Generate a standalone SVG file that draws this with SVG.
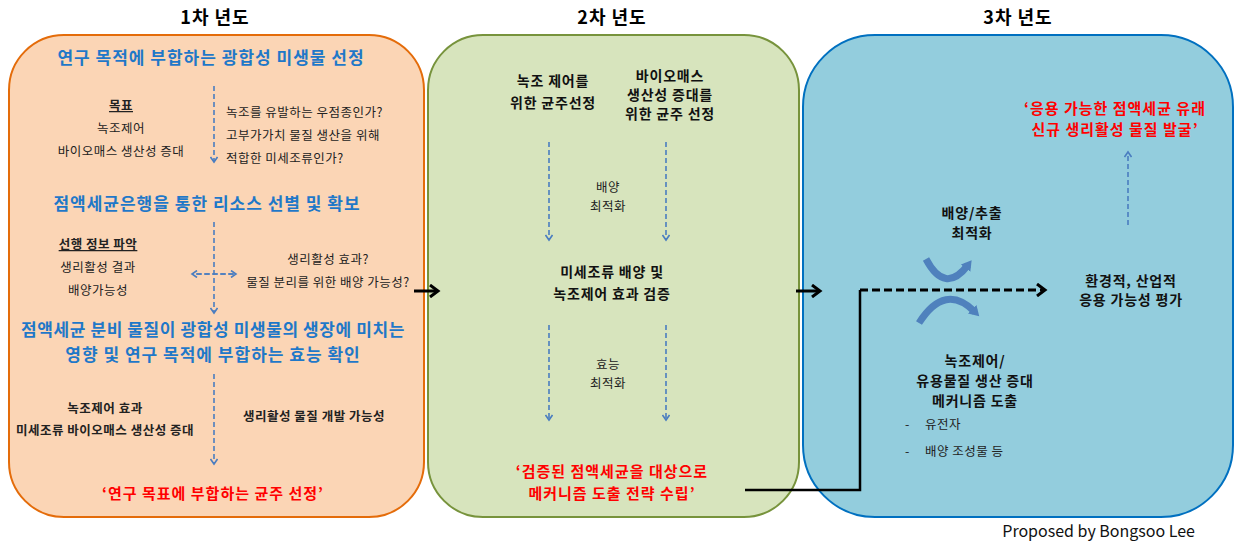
<svg xmlns="http://www.w3.org/2000/svg" width="1240" height="552" viewBox="0 0 1240 552">
<style>
text{font-family:"Noto Sans CJK KR","Noto Sans",sans-serif;}
.h{font-size:18px;font-weight:bold;fill:#000;text-anchor:middle;letter-spacing:1px}
.b{font-size:17px;font-weight:bold;fill:#1f78c8;text-anchor:middle;letter-spacing:1px}
.r{font-size:15px;font-weight:bold;fill:#ff0000;text-anchor:middle;letter-spacing:1px}
.k{font-size:12.5px;fill:#222;text-anchor:middle;letter-spacing:0.5px}
.kb{font-size:14px;font-weight:bold;fill:#111;text-anchor:middle;letter-spacing:0.8px}
.s{font-size:12.5px;fill:#222;letter-spacing:0.5px}
.d{stroke:#4a7dc0;stroke-width:1.6;stroke-dasharray:5,3;fill:none}
</style>
<defs>
<marker id="ab" markerWidth="8" markerHeight="8" refX="6" refY="4" orient="auto" markerUnits="userSpaceOnUse"><path d="M1,0.5 L6,4 L1,7.5" fill="none" stroke="#4a7dc0" stroke-width="1.6"/></marker>
<marker id="ak" markerWidth="14" markerHeight="14" refX="10" refY="7" orient="auto" markerUnits="userSpaceOnUse"><path d="M2,1 L10,7 L2,13" fill="none" stroke="#000" stroke-width="3"/></marker>
<marker id="ac" markerWidth="14" markerHeight="14" refX="4" refY="6" orient="auto" markerUnits="userSpaceOnUse"><path d="M0,0 L10,6 L0,12 Z" fill="#4f81bd"/></marker>
</defs>
<g id="year1">
<text class="h" x="215" y="24">1차 년도</text>
<rect x="9" y="35" width="415" height="482" rx="55" fill="#fbd5b5" stroke="#e46c0a" stroke-width="2"/>
<text class="b" x="211" y="64">연구 목적에 부합하는 광합성 미생물 선정</text>
<text class="k" x="121" y="110" text-decoration="underline" font-weight="bold">목표</text>
<text class="k" x="121" y="133">녹조제어</text>
<text class="k" x="121" y="156">바이오매스 생산성 증대</text>
<text class="s" x="226" y="117">녹조를 유발하는 우점종인가?</text>
<text class="s" x="226" y="140">고부가가치 물질 생산을 위해</text>
<text class="s" x="226" y="163">적합한 미세조류인가?</text>
<text class="b" x="207" y="210">점액세균은행을 통한 리소스 선별 및 확보</text>
<text class="k" x="98" y="249" text-decoration="underline" font-weight="bold">선행 정보 파악</text>
<text class="k" x="98" y="272">생리활성 결과</text>
<text class="k" x="98" y="295">배양가능성</text>
<text class="k" x="328" y="264">생리활성 효과?</text>
<text class="k" x="328" y="287">물질 분리를 위한 배양 가능성?</text>
<text class="b" x="213" y="336" style="letter-spacing:0.6px">점액세균 분비 물질이 광합성 미생물의 생장에 미치는</text>
<text class="b" x="213" y="361">영향 및 연구 목적에 부합하는 효능 확인</text>
<text class="k" x="105" y="413" font-weight="bold">녹조제어 효과</text>
<text class="k" x="105" y="435" font-weight="bold">미세조류 바이오매스 생산성 증대</text>
<text class="k" x="314" y="421" font-weight="bold">생리활성 물질 개발 가능성</text>
<text class="r" x="213" y="499">‘연구 목표에 부합하는 균주 선정’</text>
</g>
<g id="year2">
<text class="h" x="612" y="24">2차 년도</text>
<rect x="428" y="35" width="371" height="482" rx="55" fill="#d7e4bd" stroke="#77933c" stroke-width="2"/>
<text class="kb" x="553" y="86">녹조 제어를</text>
<text class="kb" x="553" y="108">위한 균주선정</text>
<text class="kb" x="670" y="81">바이오매스</text>
<text class="kb" x="670" y="100">생산성 증대를</text>
<text class="kb" x="670" y="119">위한 균주 선정</text>
<text class="k" x="608" y="192">배양</text>
<text class="k" x="608" y="211">최적화</text>
<text class="kb" x="612" y="277">미세조류 배양 및</text>
<text class="kb" x="612" y="299">녹조제어 효과 검증</text>
<text class="k" x="608" y="369">효능</text>
<text class="k" x="608" y="388">최적화</text>
<text class="r" x="612" y="477">‘검증된 점액세균을 대상으로</text>
<text class="r" x="612" y="499">메커니즘 도출 전략 수립’</text>
</g>
<g id="year3">
<text class="h" x="1018" y="24">3차 년도</text>
<rect x="803" y="35" width="430" height="482" rx="72" fill="#93cddd" stroke="#0070c0" stroke-width="2"/>
<text class="r" x="1115" y="114">‘응용 가능한 점액세균 유래</text>
<text class="r" x="1115" y="135">신규 생리활성 물질 발굴’</text>
<text class="kb" x="972" y="218">배양/추출</text>
<text class="kb" x="972" y="238">최적화</text>
<text class="kb" x="1131" y="286">환경적, 산업적</text>
<text class="kb" x="1131" y="305">응용 가능성 평가</text>
<text class="kb" x="975" y="366">녹조제어/</text>
<text class="kb" x="975" y="386">유용물질 생산 증대</text>
<text class="kb" x="975" y="406">메커니즘 도출</text>
<text class="s" x="905" y="429">-</text><text class="s" x="925" y="429">유전자</text>
<text class="s" x="905" y="456">-</text><text class="s" x="925" y="456">배양 조성물 등</text>
<text x="1195" y="537" font-family="Liberation Sans,sans-serif" font-size="16" fill="#111" text-anchor="end">Proposed by Bongsoo Lee</text>
</g>
<g id="connectors">
<line class="d" x1="214" y1="86" x2="214" y2="162" marker-end="url(#ab)"/>
<line class="d" x1="214" y1="222" x2="214" y2="313" marker-end="url(#ab)"/>
<line class="d" x1="196" y1="274" x2="236" y2="274" marker-end="url(#ab)"/>
<path class="d" d="M234,274 L192,274" marker-end="url(#ab)"/>
<line class="d" x1="214" y1="374" x2="214" y2="464" marker-end="url(#ab)"/>
<line class="d" x1="549" y1="142" x2="549" y2="240" marker-end="url(#ab)"/>
<line class="d" x1="666" y1="142" x2="666" y2="240" marker-end="url(#ab)"/>
<line class="d" x1="549" y1="325" x2="549" y2="420" marker-end="url(#ab)"/>
<line class="d" x1="666" y1="325" x2="666" y2="420" marker-end="url(#ab)"/>
<line class="d" x1="1128" y1="225" x2="1128" y2="152" marker-end="url(#ab)"/>
<line x1="414" y1="291" x2="438" y2="291" stroke="#000" stroke-width="3" marker-end="url(#ak)"/>
<line x1="796" y1="291" x2="820" y2="291" stroke="#000" stroke-width="3" marker-end="url(#ak)"/>
<path d="M745,490 L860,490 L860,290" fill="none" stroke="#000" stroke-width="2.5"/>
<path d="M860,290 L1045,290" fill="none" stroke="#000" stroke-width="3" stroke-dasharray="8,4" marker-end="url(#ak)"/>
<path d="M926,259 Q945,295 968,265" fill="none" stroke="#4f81bd" stroke-width="7" marker-end="url(#ac)"/>
<path d="M919,323 Q945,282 975,312" fill="none" stroke="#4f81bd" stroke-width="7" marker-end="url(#ac)"/>
</g>
</svg>
